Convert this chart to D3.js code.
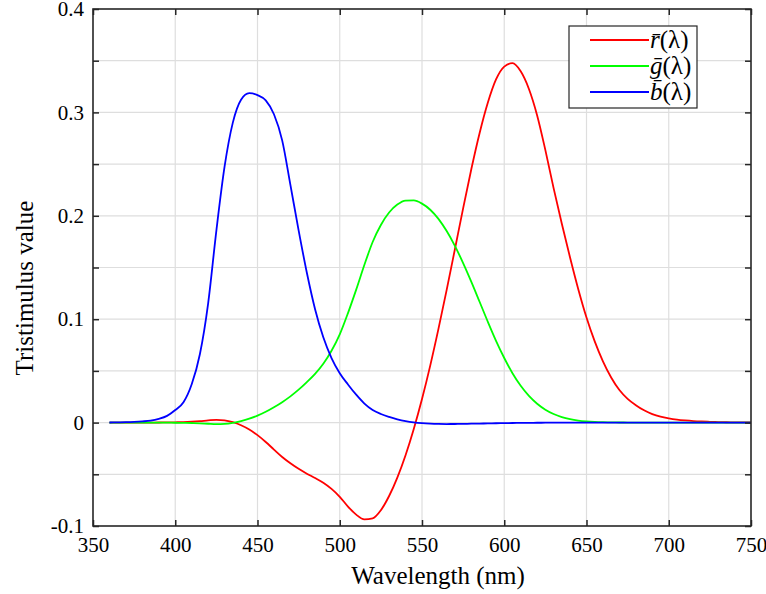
<!DOCTYPE html>
<html>
<head>
<meta charset="utf-8">
<script src="https://cdn.jsdelivr.net/npm/d3@7"></script>
<style>
  body { margin: 0; background: #fff; }
  svg text { font-family: "Liberation Serif", "DejaVu Serif", serif; fill: #000; }
</style>
</head>
<body>
<svg id="chart"></svg>
<script>
// CIE 1931 RGB colour matching functions, 5 nm steps
var wavelengths = [360, 365, 370, 375, 380, 385, 390, 395, 400, 405, 410, 415, 420, 425, 430, 435,
  440, 445, 450, 455, 460, 465, 470, 475, 480, 485, 490, 495, 500, 505, 510, 515, 520, 525, 530, 535,
  540, 545, 550, 555, 560, 565, 570, 575, 580, 585, 590, 595, 600, 605, 610, 615, 620, 625, 630, 635,
  640, 645, 650, 655, 660, 665, 670, 675, 680, 685, 690, 695, 700, 705, 710, 715, 720, 725, 730, 735,
  740, 745, 750];

var rBar = [0.00000, 0.00001, 0.00001, 0.00002, 0.00003, 0.00005, 0.00010, 0.00017, 0.00030, 0.00047,
  0.00084, 0.00139, 0.00211, 0.00266, 0.00218, 0.00036, -0.00261, -0.00673, -0.01213, -0.01874,
  -0.02608, -0.03324, -0.03933, -0.04471, -0.04939, -0.05364, -0.05814, -0.06414, -0.07173, -0.08120,
  -0.08901, -0.09356, -0.09264, -0.08473, -0.07101, -0.05316, -0.03152, -0.00613, 0.02279, 0.05514,
  0.09060, 0.12840, 0.16768, 0.20715, 0.24526, 0.27989, 0.30928, 0.33184, 0.34429, 0.34756,
  0.33971, 0.32265, 0.29708, 0.26348, 0.22677, 0.19233, 0.15968, 0.12905, 0.10167, 0.07857,
  0.05932, 0.04366, 0.03149, 0.02294, 0.01687, 0.01187, 0.00819, 0.00572, 0.00410, 0.00291,
  0.00210, 0.00148, 0.00105, 0.00074, 0.00052, 0.00036, 0.00025, 0.00017, 0.00012];

var gBar = [0.00000, 0.00000, 0.00000, -0.00001, -0.00001, -0.00002, -0.00004, -0.00007, -0.00014, -0.00022,
  -0.00041, -0.00070, -0.00110, -0.00143, -0.00119, -0.00021, 0.00149, 0.00379, 0.00678, 0.01046,
  0.01485, 0.01977, 0.02538, 0.03183, 0.03914, 0.04713, 0.05689, 0.06948, 0.08536, 0.10593,
  0.12860, 0.15262, 0.17468, 0.19113, 0.20317, 0.21083, 0.21466, 0.21487, 0.21178, 0.20588,
  0.19702, 0.18522, 0.17087, 0.15429, 0.13610, 0.11686, 0.09754, 0.07909, 0.06246, 0.04776,
  0.03557, 0.02583, 0.01828, 0.01253, 0.00833, 0.00537, 0.00334, 0.00199, 0.00116, 0.00066,
  0.00037, 0.00021, 0.00011, 0.00006, 0.00003, 0.00001, 0.00000, 0.00000, 0.00000, 0.00000,
  0.00000, 0.00000, 0.00000, 0.00000, 0.00000, 0.00000, 0.00000, 0.00000, 0.00000];

var bBar = [0.00010, 0.00020, 0.00040, 0.00070, 0.00117, 0.00189, 0.00359, 0.00647, 0.01214, 0.01969,
  0.03707, 0.06637, 0.11541, 0.18575, 0.24769, 0.29012, 0.31228, 0.31860, 0.31670, 0.31166,
  0.29821, 0.27295, 0.22991, 0.18592, 0.14494, 0.10968, 0.08257, 0.06246, 0.04776, 0.03688,
  0.02698, 0.01842, 0.01221, 0.00830, 0.00549, 0.00320, 0.00146, 0.00023, -0.00058, -0.00105,
  -0.00130, -0.00138, -0.00135, -0.00123, -0.00108, -0.00093, -0.00079, -0.00063, -0.00049, -0.00038,
  -0.00030, -0.00022, -0.00015, -0.00011, -0.00008, -0.00005, -0.00003, -0.00002, -0.00001, -0.00001,
  0.00000, 0.00000, 0.00000, 0.00000, 0.00000, 0.00000, 0.00000, 0.00000, 0.00000, 0.00000,
  0.00000, 0.00000, 0.00000, 0.00000, 0.00000, 0.00000, 0.00000, 0.00000, 0.00000];

var xTicks = [350, 400, 450, 500, 550, 600, 650, 700, 750];
var yTicks = [-0.1, -0.05, 0, 0.05, 0.1, 0.15, 0.2, 0.25, 0.3, 0.35, 0.4];
var yLabelTicks = [-0.1, 0, 0.1, 0.2, 0.3, 0.4];

var series = [
  { sym: "r", values: rBar, color: "#ff0000" },
  { sym: "g", values: gBar, color: "#00ff00" },
  { sym: "b", values: bBar, color: "#0000ff" }
];

var svgWidth = 766, svgHeight = 594;
var mLeft = 93, mRight = 751, mTop = 9, mBottom = 526;

var svg = d3.select("#chart").attr("width", svgWidth).attr("height", svgHeight);

var x = d3.scaleLinear().domain([350, 750]).range([mLeft, mRight]);
var y = d3.scaleLinear().domain([-0.1, 0.4]).range([mBottom, mTop]);

// grid
svg.append("g").selectAll("line").data(xTicks.slice(1, -1)).enter().append("line")
  .attr("x1", d => x(d)).attr("x2", d => x(d)).attr("y1", mTop).attr("y2", mBottom)
  .style("stroke", "#dedede").style("stroke-width", 1.2);
svg.append("g").selectAll("line").data(yTicks.slice(1, -1)).enter().append("line")
  .attr("x1", mLeft).attr("x2", mRight).attr("y1", d => y(d)).attr("y2", d => y(d))
  .style("stroke", "#dedede").style("stroke-width", 1.2);

// curves
var line = d3.line()
  .x((d, i) => x(wavelengths[i]))
  .y(d => y(d))
  .curve(d3.curveMonotoneX);

series.forEach(function (s) {
  svg.append("path")
    .attr("d", line(s.values))
    .style("fill", "none")
    .style("stroke", s.color)
    .style("stroke-width", 1.8);
});

// axes (ticks pointing inward, mirrored on top / right)
var tickLen = 6;
var axisColor = "#262626";

var xb = svg.append("g").attr("transform", "translate(0," + mBottom + ")")
  .call(d3.axisBottom(x).tickValues(xTicks).tickSizeInner(-tickLen).tickSizeOuter(0).tickPadding(11));
var xt = svg.append("g").attr("transform", "translate(0," + mTop + ")")
  .call(d3.axisTop(x).tickValues(xTicks).tickSizeInner(-tickLen).tickSizeOuter(0).tickFormat(""));
var yl = svg.append("g").attr("transform", "translate(" + mLeft + ",0)")
  .call(d3.axisLeft(y).tickValues(yTicks).tickSizeInner(-tickLen).tickSizeOuter(0).tickPadding(9)
    .tickFormat(d => yLabelTicks.some(v => Math.abs(v - d) < 1e-9) ? String(+d.toFixed(2)) : ""));
var yr = svg.append("g").attr("transform", "translate(" + mRight + ",0)")
  .call(d3.axisRight(y).tickValues(yTicks).tickSizeInner(-tickLen).tickSizeOuter(0).tickFormat(""));

[xb, xt, yl, yr].forEach(function (g) {
  g.select(".domain").remove();
  g.selectAll(".tick line").style("stroke", axisColor).style("stroke-width", 1.5);
  g.selectAll(".tick text").style("font-family", "Liberation Serif").style("font-size", "21px").style("fill", "#000");
});

svg.append("rect")
  .attr("x", mLeft).attr("y", mTop).attr("width", mRight - mLeft).attr("height", mBottom - mTop)
  .style("fill", "none").style("stroke", axisColor).style("stroke-width", 1.6);

// axis labels
svg.append("text")
  .attr("x", 438).attr("y", 584)
  .attr("text-anchor", "middle").style("font-size", "25px")
  .text("Wavelength (nm)");

svg.append("text")
  .attr("transform", "translate(33,288) rotate(-90)")
  .attr("text-anchor", "middle").style("font-size", "25px")
  .text("Tristimulus value");

// legend
var lg = svg.append("g").attr("transform", "translate(569,26)");
lg.append("rect").attr("width", 128).attr("height", 82)
  .style("fill", "#fff").style("stroke", axisColor).style("stroke-width", 1.2);

series.forEach(function (s, i) {
  var yy = 14 + i * 26;
  lg.append("line").attr("x1", 21).attr("x2", 80).attr("y1", yy).attr("y2", yy)
    .style("stroke", s.color).style("stroke-width", 1.8);
  var t = lg.append("text").attr("x", 81).attr("y", yy + 8).style("font-size", "25px");
  t.append("tspan").style("font-style", "italic").text(s.sym + "\u0304");
  t.append("tspan").text("(\u03bb)");
});
</script>
</body>
</html>
